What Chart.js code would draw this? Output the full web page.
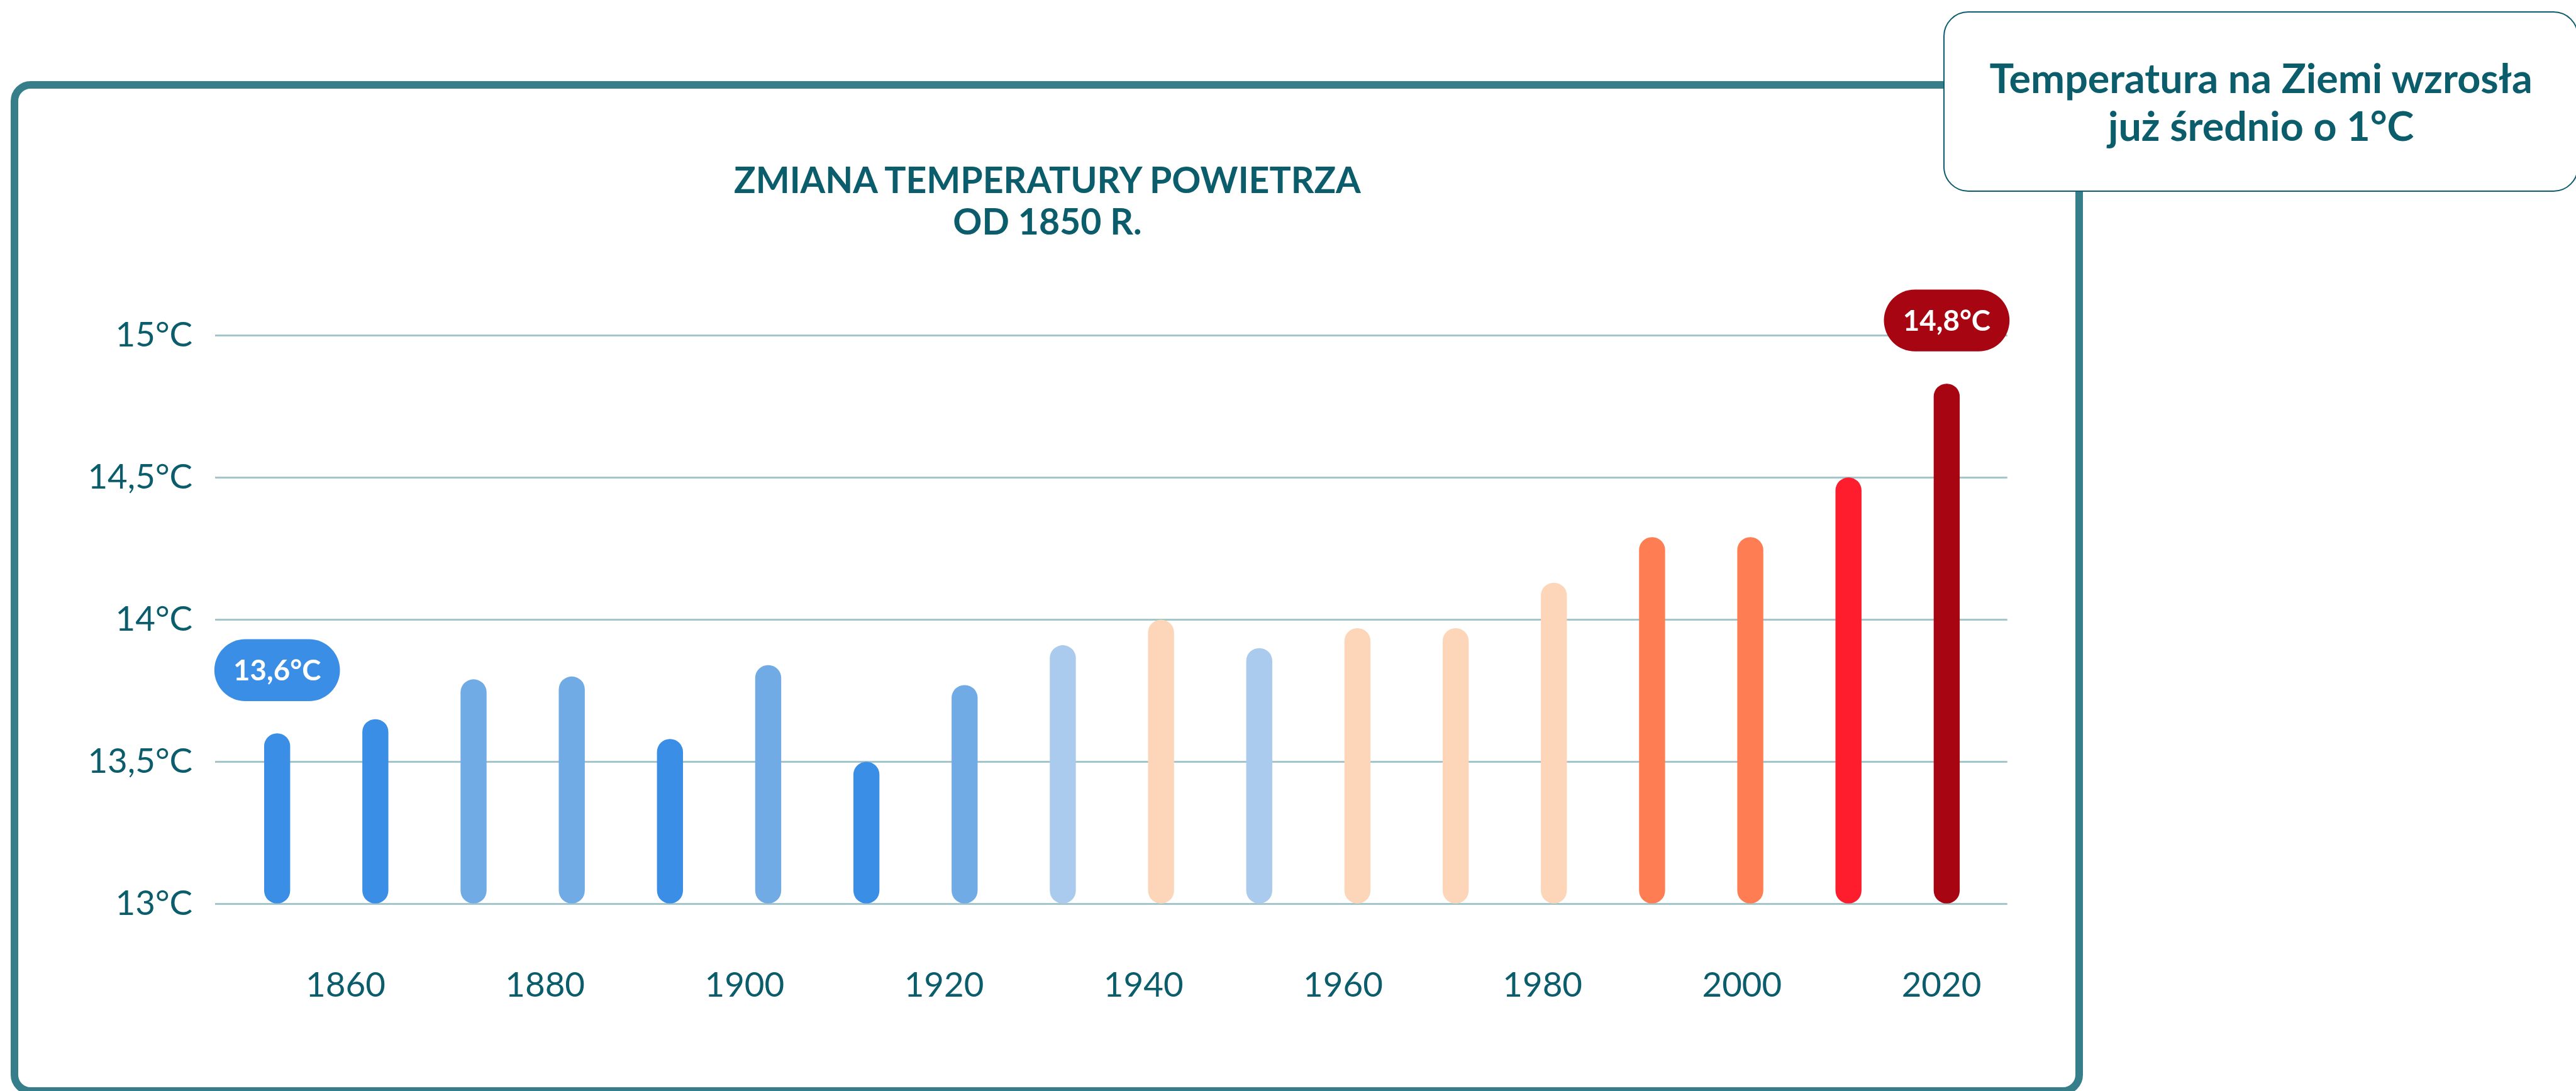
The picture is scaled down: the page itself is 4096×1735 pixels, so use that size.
<!DOCTYPE html>
<html lang="pl">
<head>
<meta charset="utf-8">
<title>Zmiana temperatury powietrza od 1850 r.</title>
<script src="https://cdn.jsdelivr.net/npm/chart.js@4.4.1/dist/chart.umd.min.js"></script>
<style>
  html, body { margin: 0; padding: 0; background: #fff; }
  #wrap { position: relative; width: 4096px; height: 1735px; overflow: hidden; font-family: 'Lato', sans-serif; color: #0b5d6c; }
  #frame, #title, #note { position: absolute; box-sizing: border-box; }
  #frame { border-style: solid; border-color: #367e8a; }
  #chart { position: absolute; left: 0; top: 0; }
  #title { font-weight: 700; text-align: center; white-space: nowrap; }
  #note { background: #fff; border-style: solid; border-color: #0b5d6c; display: flex; align-items: center; justify-content: center; text-align: center; font-weight: 700; white-space: nowrap; }
</style>
</head>
<body>
<div id="wrap">
  <div id="frame"></div>
  <canvas id="chart" width="4096" height="1735"></canvas>
  <div id="title">ZMIANA TEMPERATURY POWIETRZA<br>OD 1850 R.</div>
  <div id="note"><div>Temperatura na Ziemi wzrosła<br>już średnio o 1°C</div></div>
</div>
<script>
// dane: średnia temperatura w dekadzie
const decades = [1850, 1860, 1870, 1880, 1890, 1900, 1910, 1920, 1930, 1940, 1950, 1960, 1970, 1980, 1990, 2000, 2010, 2020];
const temps = [13.60, 13.65, 13.79, 13.80, 13.58, 13.84, 13.50, 13.77, 13.91, 14.00, 13.90, 13.97, 13.97, 14.13, 14.29, 14.29, 14.50, 14.83];
const yTicks = [13, 13.5, 14, 14.5, 15];
const yearTicks = [1860, 1880, 1900, 1920, 1940, 1960, 1980, 2000, 2020];
const highlighted = [0, 17];

const barColors = ['#3a8ee6', '#3a8ee6', '#71abe6', '#71abe6', '#3a8ee6', '#71abe6', '#3a8ee6', '#71abe6', '#abcbee',
  '#fdd6b9', '#abcbee', '#fdd6b9', '#fdd6b9', '#fdd6b9', '#fe7d53', '#fe7d53', '#fe1d2d', '#a70511'];
const textColor = '#0b5d6c';

const S = 4096 / 4122;

function place(el, box) {
  for (const k in box) el.style[k] = (box[k] * S) + 'px';
}
place(document.getElementById('frame'), { left: 17, top: 130, width: 3316, height: 1622, borderWidth: 13, borderRadius: 32 });
place(document.getElementById('title'), { left: 0, top: 255, width: 3352, fontSize: 57.5, lineHeight: 66 });
place(document.getElementById('note'), { left: 3110, top: 18, width: 1016, height: 289, borderWidth: 3, borderRadius: 40, fontSize: 65, lineHeight: 77 });

// dymki z wartością nad pierwszym i ostatnim słupkiem
const bubblePlugin = {
  id: 'bubbles',
  afterDatasetsDraw(chart) {
    const ctx = chart.ctx;
    const bars = chart.getDatasetMeta(0).data;
    const w = 201 * S, h = 99 * S, gap = 52 * S;
    ctx.save();
    ctx.font = `700 ${46 * S}px Lato`;
    ctx.textAlign = 'center';
    ctx.textBaseline = 'middle';
    highlighted.forEach(i => {
      const bar = bars[i];
      const cy = bar.y - gap - h / 2;
      ctx.fillStyle = barColors[i];
      ctx.beginPath();
      ctx.roundRect(bar.x - w / 2, cy - h / 2, w, h, h / 2);
      ctx.fill();
      ctx.fillStyle = '#fff';
      ctx.fillText(temps[i].toFixed(1).replace('.', ',') + '°C', bar.x, cy + 2 * S);
    });
    ctx.restore();
  }
};

const tempChart = new Chart(document.getElementById('chart'), {
  type: 'bar',
  data: {
    labels: decades,
    datasets: [{
      data: temps,
      base: yTicks[0],
      backgroundColor: barColors,
      barThickness: 41 * S,
      borderRadius: 20.5 * S,
      borderSkipped: false
    }]
  },
  options: {
    responsive: false,
    animation: false,
    devicePixelRatio: 1,
    layout: { padding: { top: 537 * S, right: 4096 - 3212 * S, left: 0, bottom: 0 } },
    plugins: { legend: { display: false }, tooltip: { enabled: false } },
    scales: {
      x: { type: 'linear', display: false, offset: false, min: 1843.67, max: 2026.17 },
      years: {
        type: 'linear',
        position: 'bottom',
        offset: false,
        min: 1846.91,
        max: 2026.6,
        grid: { display: false },
        border: { display: false },
        afterBuildTicks: s => { s.ticks = yearTicks.map(v => ({ value: v })); },
        afterFit: s => { s.height = 1735 - 1447 * S; },
        ticks: {
          autoSkip: false,
          maxRotation: 0,
          padding: 122 * S - 0.6 * 55 * S,
          color: textColor,
          font: { family: 'Lato', size: 55 * S },
          callback: v => String(v)
        }
      },
      y: {
        min: 13,
        max: 15,
        afterBuildTicks: s => { s.ticks = yTicks.map(v => ({ value: v })); },
        afterFit: s => { s.width = 344 * S; },
        grid: { color: '#a2c6cc', lineWidth: 3 * S, drawTicks: false },
        border: { display: false },
        ticks: {
          padding: 36 * S,
          color: textColor,
          font: { family: 'Lato', size: 55 * S },
          callback: v => String(v).replace('.', ',') + '°C'
        }
      }
    }
  },
  plugins: [bubblePlugin]
});
</script>
</body>
</html>
